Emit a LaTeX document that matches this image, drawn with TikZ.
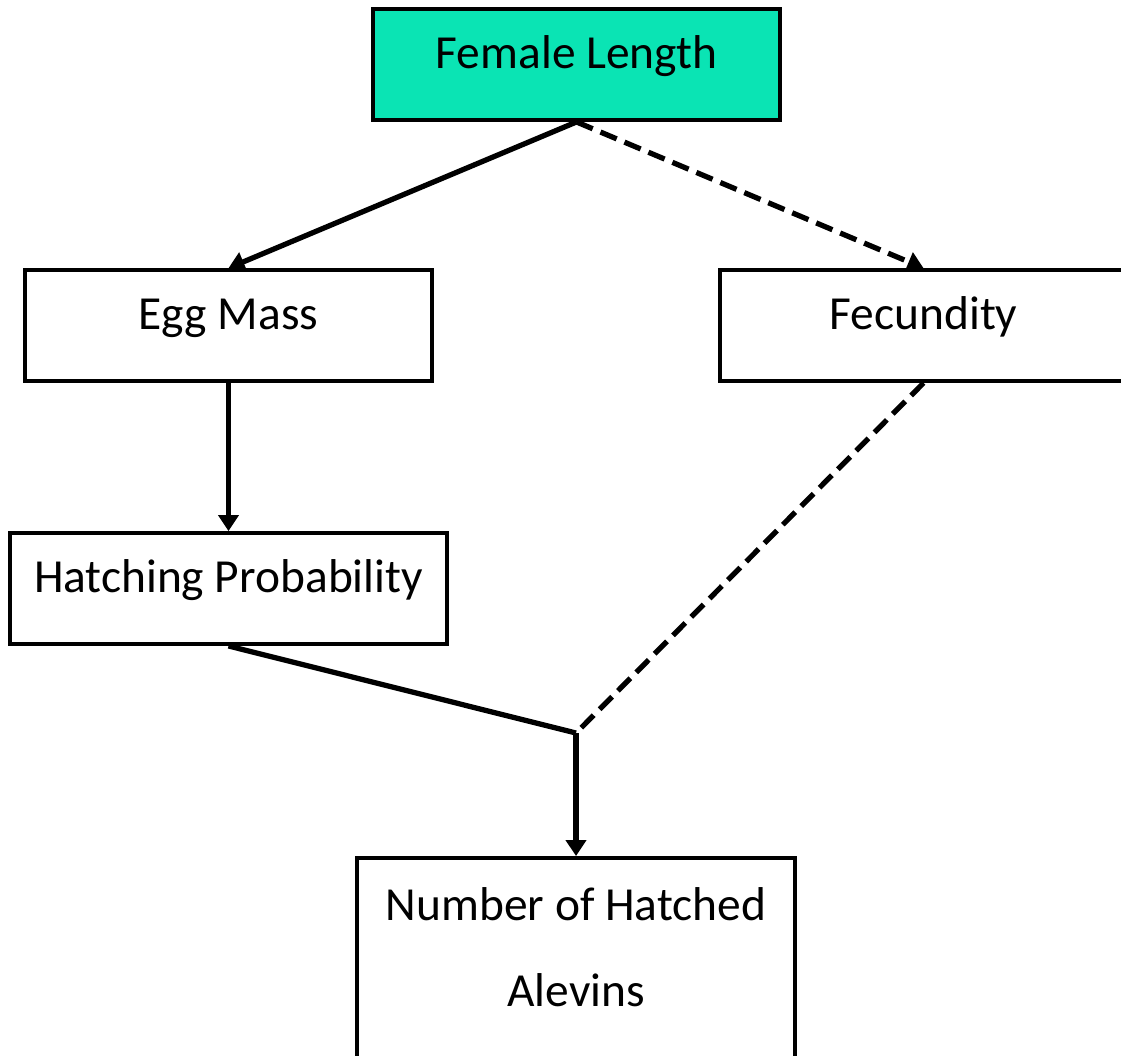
\documentclass[tikz,border=0pt]{standalone}
\usepackage{fontspec}
\setmainfont{Carlito}
\usetikzlibrary{arrows.meta}
\definecolor{lengthgreen}{RGB}{10,228,180}

\begin{document}
\begin{tikzpicture}[
  box/.style={draw=black, line width=1.1pt, inner sep=0pt, text height=0.59cm, text depth=0.52cm, font=\fontsize{13.5}{16}\selectfont},
  link/.style={line width=1.5pt, -{Triangle[length=0.16cm,width=0.2cm]}},
  dashlink/.style={line width=1.5pt, dash pattern=on 5pt off 2.4pt}]
\useasboundingbox (0,0) rectangle (11.21,-10.55);
\node[box, fill=lengthgreen, minimum width=4.07cm] (female) at (5.765,-0.645) {Female Length};
\node[box, minimum width=4.07cm] (eggmass) at (2.285,-3.255) {Egg Mass};
\node[box, minimum width=4.07cm] (fecundity) at (9.235,-3.255) {Fecundity};
\node[box, minimum width=4.37cm] (hatching) at (2.285,-5.885) {Hatching Probability};
\node[box, minimum width=4.38cm, align=center, text height=1.49cm, text depth=0.8cm, anchor=north] (alevins) at (5.76,-8.56) {Number of Hatched\\[8.7pt]Alevins};
\coordinate (junction) at (5.76,-7.33);
\draw[link] (female.south) -- (eggmass.north);
\draw[link, dashlink] (female.south) -- (fecundity.north);
\draw[link] (eggmass.south) -- (hatching.north);
\draw[line width=1.5pt] (hatching.south) -- (junction);
\draw[dashlink] (fecundity.south) -- (junction);
\draw[link] (junction) -- (alevins.north);
\end{tikzpicture}
\end{document}
